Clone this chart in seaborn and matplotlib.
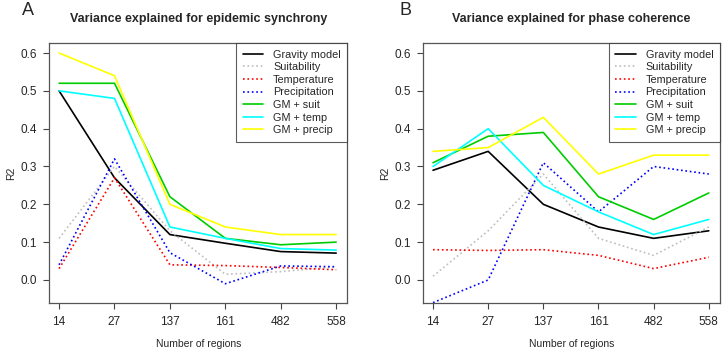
import matplotlib
matplotlib.use("Agg")
import matplotlib.pyplot as plt
import seaborn as sns
import numpy as np
import pandas as pd

regions = ["14", "27", "137", "161", "482", "558"]
series_names = ["Gravity model", "Suitability", "Temperature", "Precipitation",
                "GM + suit", "GM + temp", "GM + precip"]

# panel A: epidemic synchrony
sync_gravity = [0.50, 0.27, 0.12, 0.097, 0.075, 0.071]
sync_suit = [0.11, 0.30, 0.13, 0.015, 0.022, 0.035]
sync_temp = [0.03, 0.27, 0.04, 0.038, 0.033, 0.027]
sync_precip = [0.04, 0.32, 0.072, -0.01, 0.037, 0.035]
sync_gm_suit = [0.52, 0.52, 0.22, 0.11, 0.093, 0.10]
sync_gm_temp = [0.50, 0.48, 0.14, 0.11, 0.083, 0.079]
sync_gm_precip = [0.60, 0.54, 0.20, 0.14, 0.12, 0.12]

# panel B: phase coherence
phase_gravity = [0.29, 0.34, 0.20, 0.14, 0.11, 0.13]
phase_suit = [0.01, 0.13, 0.28, 0.11, 0.065, 0.14]
phase_temp = [0.08, 0.078, 0.08, 0.065, 0.03, 0.06]
phase_precip = [-0.06, 0.0, 0.31, 0.18, 0.30, 0.28]
phase_gm_suit = [0.31, 0.38, 0.39, 0.22, 0.16, 0.23]
phase_gm_temp = [0.30, 0.40, 0.25, 0.18, 0.12, 0.16]
phase_gm_precip = [0.34, 0.35, 0.43, 0.28, 0.33, 0.33]

colors = ["black", "#BEBEBE", "red", "blue", "#00CD00", "cyan", "yellow"]
styles = ["-", ":", ":", ":", "-", "-", "-"]

sns.set_style("white")
plt.rcParams['font.family'] = ['Liberation Sans', 'DejaVu Sans']

fig = plt.figure(figsize=(7.22, 3.54), dpi=100)
axA = fig.add_axes([0.068, 0.144, 0.413, 0.734])
axB = fig.add_axes([0.586, 0.144, 0.411, 0.734])

panels = [
    (axA, "A", 0.031, "Variance explained for epidemic synchrony",
     [sync_gravity, sync_suit, sync_temp, sync_precip, sync_gm_suit, sync_gm_temp, sync_gm_precip]),
    (axB, "B", 0.553, "Variance explained for phase coherence",
     [phase_gravity, phase_suit, phase_temp, phase_precip, phase_gm_suit, phase_gm_temp, phase_gm_precip]),
]

x = np.arange(len(regions))
for ax, letter, lx, title, data in panels:
    for name, vals, c, ls in zip(series_names, data, colors, styles):
        df = pd.DataFrame({"pos": x, "r2": vals})
        sns.lineplot(data=df, x="pos", y="r2", ax=ax, color=c, linestyle=ls,
                     linewidth=1.2, label=name)
    ax.set_xlim(-0.18, 5.2)
    ax.set_ylim(-0.061, 0.626)
    ax.set_xticks(x)
    ax.set_xticklabels(regions)
    ax.set_yticks([0.0, 0.1, 0.2, 0.3, 0.4, 0.5, 0.6])
    ax.set_yticklabels(["0.0", "0.1", "0.2", "0.3", "0.4", "0.5", "0.6"])
    ax.tick_params(axis="both", which="both", direction="out", length=4, width=0.8,
                   labelsize=8.5, color="#444444", left=True, bottom=True, pad=5)
    for s in ax.spines.values():
        s.set_color("#555555")
        s.set_linewidth(0.9)
    ax.set_xlabel("Number of regions", fontsize=7.5, labelpad=8)
    ax.set_ylabel("R2", fontsize=7.5, labelpad=3)
    ax.set_title(title, fontsize=9, fontweight="bold", pad=15)
    fig.text(lx, 0.995, letter, fontsize=13, va="top", ha="left")
    leg = ax.legend(loc="upper right", fontsize=7.8, frameon=True, fancybox=False,
                    borderaxespad=0, handlelength=1.9, labelspacing=0.24,
                    borderpad=0.6, handletextpad=0.9)
    leg.get_frame().set_edgecolor("#333333")
    leg.get_frame().set_linewidth(0.8)

plt.savefig("out.png", dpi=100)
plt.close()
